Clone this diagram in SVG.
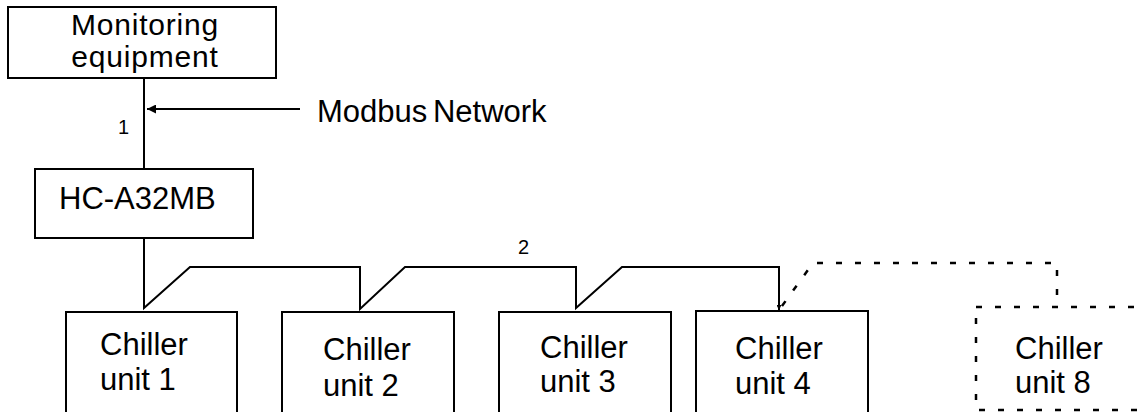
<svg xmlns="http://www.w3.org/2000/svg" width="1143" height="412" viewBox="0 0 1143 412">
<style>
.box{fill:#fff;stroke:#000;stroke-width:2}
.dbox{fill:none;stroke:#000;stroke-width:2.5;stroke-dasharray:6 13}
.t{font-family:"Liberation Sans",Arial,sans-serif;font-size:31px;fill:#000}
.m{font-family:"Liberation Sans",Arial,sans-serif;font-size:30px;letter-spacing:0.8px;fill:#000}
.s{font-family:"Liberation Sans",Arial,sans-serif;font-size:20px;fill:#000}
.ln{fill:none;stroke:#000;stroke-width:2}
.dl{fill:none;stroke:#000;stroke-width:2.5;stroke-dasharray:6 13}
</style>
<defs>
<marker id="ah" viewBox="0 0 10 10" refX="10" refY="5" markerWidth="11" markerHeight="9" markerUnits="userSpaceOnUse" orient="auto"><path d="M0,0 L10,5 L0,10 z" fill="#000"/></marker>
<marker id="sh" viewBox="0 0 10 10" refX="10" refY="5" markerWidth="5" markerHeight="5" markerUnits="userSpaceOnUse" orient="auto"><path d="M0,0 L10,5 L0,10 z" fill="#000"/></marker>
</defs>
<g id="connectors">
<path class="ln" d="M144,78 V169"/>
<path class="ln" d="M300,109 H147" marker-end="url(#ah)"/>
<path class="ln" d="M144,238 V308 L190,267 H360 V309 L405,267 H576 V308 L622,267 H779 V310" marker-end="url(#sh)"/>
<path class="dl" d="M782,306 L813,263 H1057 V307"/>
</g>
<g id="monitoring"><rect class="box" x="8" y="7" width="268" height="71"/><text class="m" x="145" y="35" text-anchor="middle">Monitoring</text><text class="m" x="145" y="67" text-anchor="middle">equipment</text></g>
<g id="modbus-label"><text class="t" x="317" y="122" word-spacing="-3">Modbus Network</text></g>
<g id="label-1"><text class="s" x="118" y="134">1</text></g>
<g id="label-2"><text class="s" x="518" y="254">2</text></g>
<g id="hc"><rect class="box" x="35" y="169" width="218" height="69"/><text class="t" x="59" y="209">HC-A32MB</text></g>
<g id="chiller1"><rect class="box" x="66" y="312" width="171" height="110"/><text class="t" x="100" y="355">Chiller</text><text class="t" x="100" y="390">unit 1</text></g>
<g id="chiller2"><rect class="box" x="282" y="312" width="172" height="110"/><text class="t" x="323" y="360">Chiller</text><text class="t" x="323" y="396">unit 2</text></g>
<g id="chiller3"><rect class="box" x="499" y="312" width="172" height="110"/><text class="t" x="540" y="358">Chiller</text><text class="t" x="540" y="392">unit 3</text></g>
<g id="chiller4"><rect class="box" x="696" y="311" width="172" height="111"/><text class="t" x="735" y="359">Chiller</text><text class="t" x="735" y="394">unit 4</text></g>
<g id="chiller8"><rect class="dbox" x="976" y="307" width="200" height="103"/><text class="t" x="1015" y="359">Chiller</text><text class="t" x="1015" y="393">unit 8</text></g>
</svg>
